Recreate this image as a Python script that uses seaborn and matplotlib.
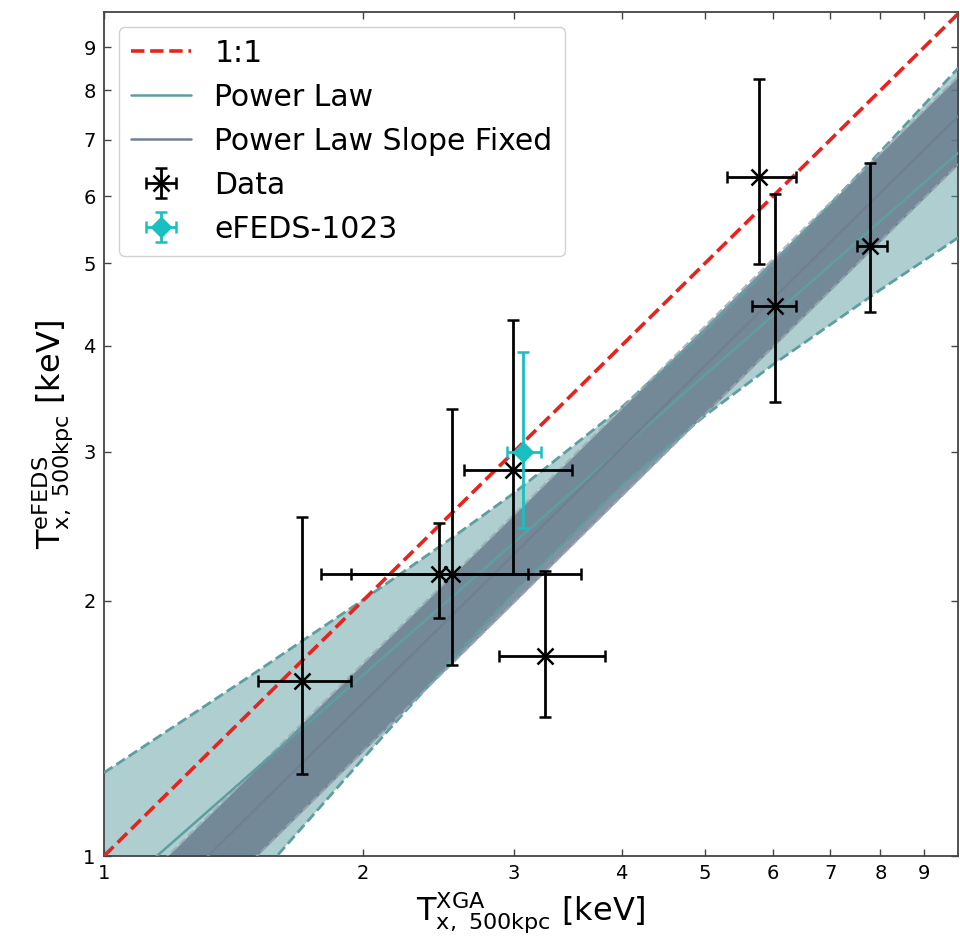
import numpy as np
import pandas as pd
import matplotlib
matplotlib.use('Agg')
import matplotlib.pyplot as plt
import seaborn as sns
from matplotlib.ticker import FixedLocator, NullLocator, FixedFormatter

sns.set_style('ticks')
plt.rcParams['font.family'] = ['DejaVu Sans']
plt.rcParams['mathtext.fontset'] = 'dejavusans'
plt.rcParams['text.color'] = 'black'
plt.rcParams['axes.labelcolor'] = 'black'
plt.rcParams['xtick.labelcolor'] = 'black'
plt.rcParams['ytick.labelcolor'] = 'black'

# ---------------- data ----------------
# clusters: XGA temperature vs eFEDS temperature
x_data = [1.70, 2.45, 2.54, 2.99, 3.26, 5.78, 6.03, 7.78]
y_data = [1.61, 2.15, 2.15, 2.85, 1.72, 6.32, 4.45, 5.24]
x_lo   = [1.51, 1.94, 1.79, 2.62, 2.88, 5.31, 5.68, 7.51]
x_hi   = [1.94, 3.11, 3.59, 3.50, 3.83, 6.38, 6.38, 8.14]
y_lo   = [1.25, 1.91, 1.68, 2.15, 1.46, 4.99, 3.43, 4.38]
y_hi   = [2.51, 2.47, 3.37, 4.29, 2.17, 8.25, 6.04, 6.57]

# eFEDS-1023
ef_x, ef_y = [3.07], [3.00]
ef_x_lo, ef_x_hi = [2.94], [3.22]
ef_y_lo, ef_y_hi = [2.44], [3.93]

# 1:1 relation
one_x = [1.0, 10.0]
one_y = [1.0, 10.0]

# power-law fit and its uncertainty band
pl_x   = [1.0, 1.25, 1.5, 2.0, 2.5, 3.0, 4.0, 5.0, 6.0, 8.0, 10.0]
pl_mid = [0.882, 1.075, 1.265, 1.634, 1.993, 2.343, 3.027, 3.692, 4.341, 5.611, 6.841]
pl_hi  = [1.254, 1.456, 1.646, 2.004, 2.346, 2.681, 3.382, 4.157, 4.991, 6.774, 8.638]
pl_lo  = [0.586, 0.759, 0.936, 1.302, 1.675, 2.045, 2.735, 3.307, 3.799, 4.655, 5.417]

# power law with fixed slope and its band
sf_x   = [1.0, 10.0]
sf_mid = [0.757, 7.57]
sf_hi  = [0.843, 8.43]
sf_lo  = [0.664, 6.64]

ticks = [1, 2, 3, 4, 5, 6, 7, 8, 9]
tick_labels = ['1', '2', '3', '4', '5', '6', '7', '8', '9']

# ---------------- figure ----------------
fig = plt.figure(figsize=(9.6, 9.42), dpi=100)
ax = fig.add_axes([104 / 960, 1 - 856 / 942, 854 / 960, 844 / 942])
ax.set_xscale('log')
ax.set_yscale('log')

teal = '#5f9ea0'
slate = '#708090'

ax.fill_between(pl_x, pl_lo, pl_hi, color=teal, alpha=0.5, lw=0, zorder=1)
ax.fill_between(sf_x, sf_lo, sf_hi, color='#66788a', alpha=0.8, lw=0, zorder=2)

sns.lineplot(x=one_x, y=one_y, ax=ax, color='#e8221f', linestyle='--', lw=2.6, zorder=5)
ln_one = ax.lines[-1]
sns.lineplot(x=pl_x, y=pl_mid, ax=ax, color=teal, lw=1.8, zorder=4)
ln_pl = ax.lines[-1]
sns.lineplot(x=sf_x, y=sf_mid, ax=ax, color=slate, lw=1.8, zorder=4)
ln_sf = ax.lines[-1]
for arr in (pl_hi, pl_lo):
    sns.lineplot(x=pl_x, y=arr, ax=ax, color=teal, linestyle='--', lw=2.0, zorder=3)
for arr in (sf_hi, sf_lo):
    sns.lineplot(x=sf_x, y=arr, ax=ax, color='#9aa9b2', linestyle='--', lw=1.6, alpha=0.8, zorder=3)

xd = np.array(x_data); yd = np.array(y_data)
eb_data = ax.errorbar(xd, yd,
                      xerr=[xd - np.array(x_lo), np.array(x_hi) - xd],
                      yerr=[yd - np.array(y_lo), np.array(y_hi) - yd],
                      fmt='x', color='k', ms=12, mew=1.8, elinewidth=2.0,
                      capsize=4, capthick=1.8, zorder=7)
ex = np.array(ef_x); ey = np.array(ef_y)
eb_ef = ax.errorbar(ex, ey,
                    xerr=[ex - np.array(ef_x_lo), np.array(ef_x_hi) - ex],
                    yerr=[ey - np.array(ef_y_lo), np.array(ef_y_hi) - ey],
                    fmt='D', color='#1abfbf', ms=10, elinewidth=2.0,
                    capsize=4, capthick=1.8, zorder=8)

ax.set_xlim(1, 9.85)
ax.set_ylim(1, 9.9)

for axis in (ax.xaxis, ax.yaxis):
    axis.set_major_locator(FixedLocator(ticks))
    axis.set_major_formatter(FixedFormatter(tick_labels))
    axis.set_minor_locator(NullLocator())
ax.tick_params(which='both', direction='in', top=True, right=True,
               length=5, width=1.0, labelsize=14, color='#444444', pad=6)
for s in ax.spines.values():
    s.set_color('#444444')
    s.set_linewidth(1.3)

ax.set_xlabel(r'$\mathrm{T_{x,\ 500kpc}^{XGA}}$ [keV]', fontsize=23, labelpad=5)
ax.set_ylabel(r'$\mathrm{T_{x,\ 500kpc}^{eFEDS}}$ [keV]', fontsize=23, labelpad=6)

leg = ax.legend([ln_one, ln_pl, ln_sf, eb_data, eb_ef],
                ['1:1', 'Power Law', 'Power Law Slope Fixed', 'Data', 'eFEDS-1023'],
                loc='upper left', fontsize=21.5, frameon=True, fancybox=True,
                framealpha=0.9, edgecolor='#cccccc', borderpad=0.4,
                labelspacing=0.5, handlelength=2.0)
leg.set_zorder(10)

fig.savefig('out.png', dpi=100)
